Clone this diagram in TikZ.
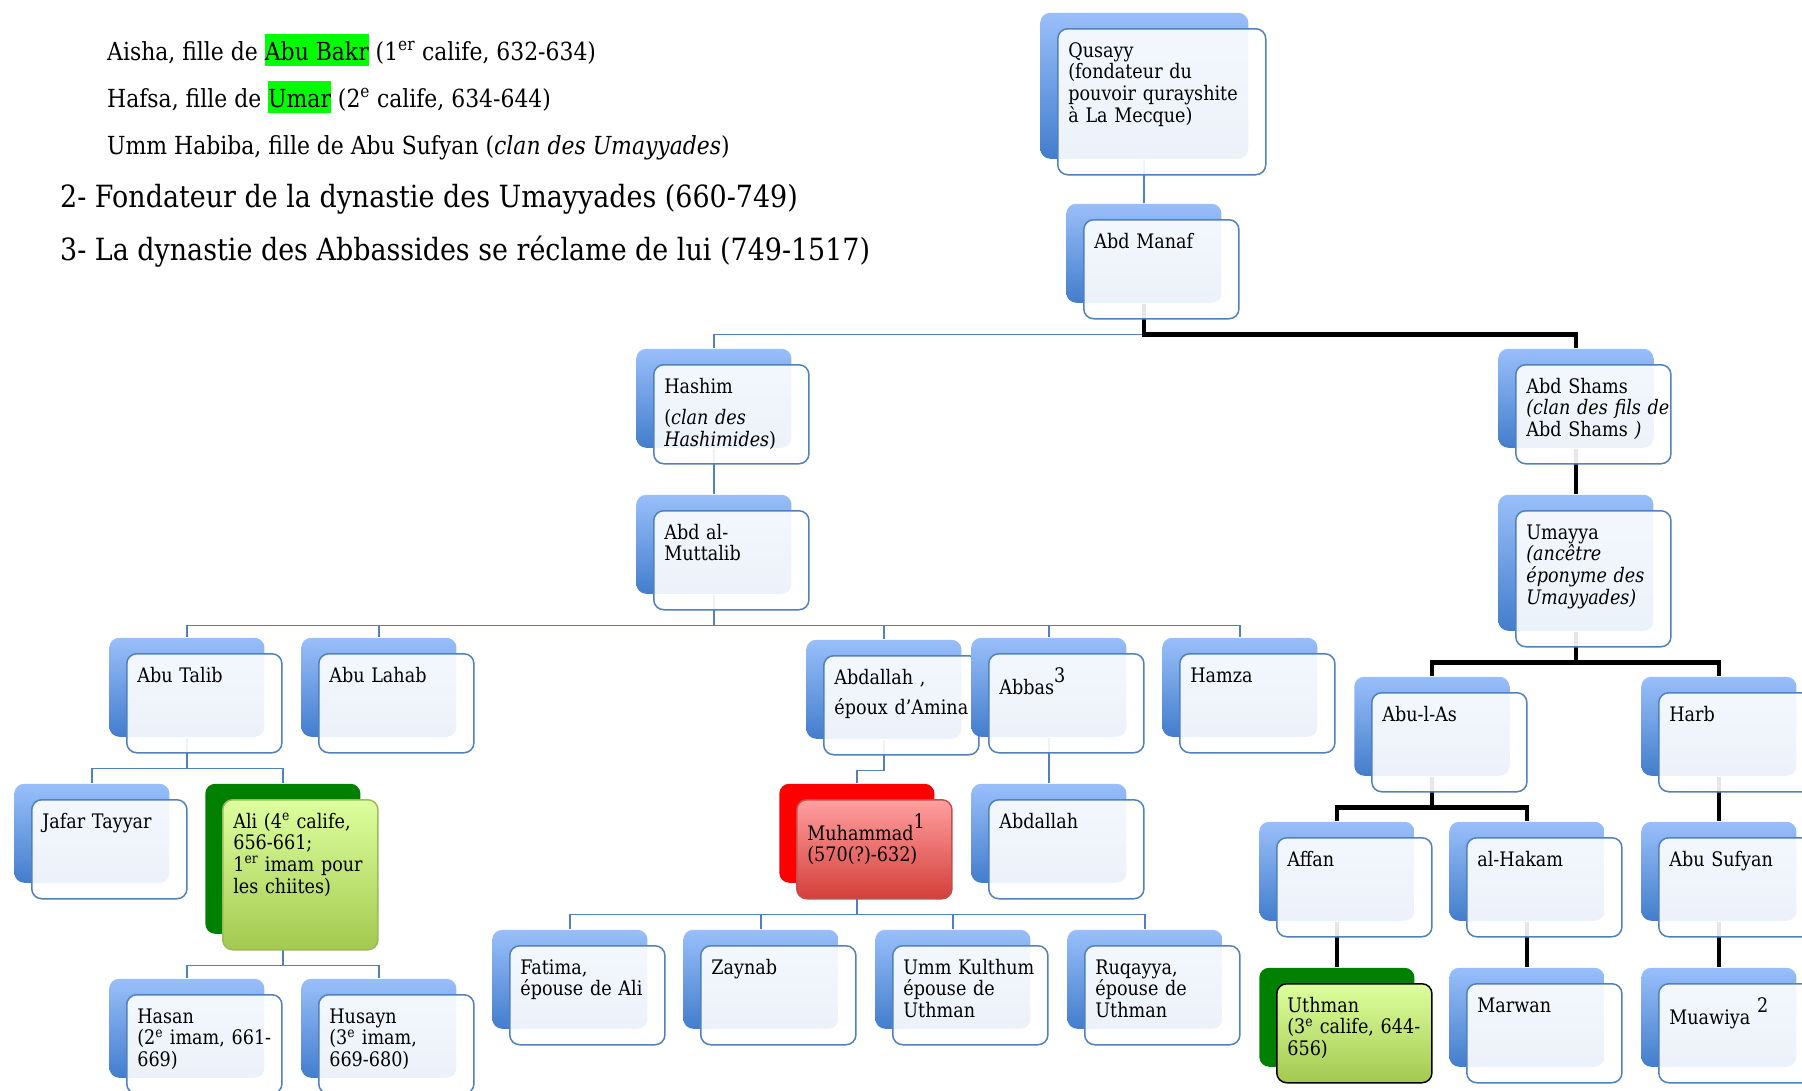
\documentclass[tikz,border=0pt]{standalone}
\usepackage{fontspec}
\setmainfont{DejaVu Serif}[FakeStretch=0.88]
\usetikzlibrary{shadows,backgrounds}

\definecolor{boxline}{HTML}{4F81BD}
\definecolor{backtop}{HTML}{99BFFA}
\definecolor{backbot}{HTML}{437DCC}
\definecolor{hlgreen}{HTML}{00FF00}
\definecolor{limetop}{HTML}{DDFF9E}
\definecolor{limebot}{HTML}{A3C94F}
\definecolor{limeline}{HTML}{9BBB59}
\definecolor{darkgreen}{HTML}{008000}
\definecolor{rosetop}{HTML}{FF9F9F}
\definecolor{rosebot}{HTML}{D43F3A}
\definecolor{roseline}{HTML}{C0504D}

\newcommand{\hilite}[1]{{\setlength{\fboxsep}{0pt}\colorbox{hlgreen}{\rule[-0.26em]{0pt}{1.29em}#1}}}
\newcommand{\noteref}[1]{\raisebox{0.6em}{#1}}

\begin{document}
\begin{tikzpicture}[x=1pt,y=-1pt,
    person/.style={anchor=north west, line width=1.5pt, rounded corners=10pt,
      text opacity=1, align=left, text width=134pt, inner xsep=10.6pt, inner ysep=13.3pt,
      text height=15pt, text depth=57.4pt, font=\fontsize{20}{21.7}\selectfont},
    plain/.style={person, draw=boxline, fill=white, fill opacity=0.9,
      general shadow={shadow xshift=-17.5pt, shadow yshift=16pt, draw=none, fill opacity=1,
        top color=backtop, bottom color=backbot}},
    caliph/.style={person, draw=limeline, top color=limetop, bottom color=limebot,
      general shadow={shadow xshift=-17.5pt, shadow yshift=16pt, draw=none, fill=darkgreen}},
    prophet/.style={person, draw=roseline, top color=rosetop, bottom color=rosebot,
      general shadow={shadow xshift=-17.5pt, shadow yshift=16pt, draw=none, fill=red}},
    note/.style={anchor=base west, inner sep=0pt},
    kin/.style={draw=boxline, line width=1.8pt},
    umayyad/.style={draw=black, line width=4.5pt},
  ]
  \useasboundingbox (0,0) rectangle (1802,1090);
  \clip (0,0) rectangle (1802,1090);

  % notes
  \node[note, font=\fontsize{24.9}{30}\selectfont] (aisha) at (107,60) {Aisha, fille de \hilite{Abu Bakr} (1\textsuperscript{er} calife, 632-634)};
  \node[note, font=\fontsize{24.9}{30}\selectfont] (hafsa) at (107,107) {Hafsa, fille de \hilite{Umar} (2\textsuperscript{e} calife, 634-644)};
  \node[note, font=\fontsize{24.9}{30}\selectfont] (habiba) at (107,154) {Umm Habiba, fille de Abu Sufyan (\textit{clan des Umayyades})};
  \node[note, font=\fontsize{30.6}{36}\selectfont] (note2) at (60,207) {2- Fondateur de la dynastie des Umayyades (660-749)};
  \node[note, font=\fontsize{30.6}{36}\selectfont] (note3) at (60,260) {3- La dynastie des Abbassides se réclame de lui (749-1517)};

  % tree
  \node[plain, text width=186.8pt, text depth=104.4pt] (qusayy) at (1057,28) {Qusayy\\(fondateur du\\pouvoir qurayshite\\à La Mecque)};
  \node[plain] (abdmanaf) at (1083,219) {Abd Manaf};
  \node[plain] (hashim) at (653,364) {Hashim\\[10pt](\textit{clan des}\\\textit{Hashimides})};
  \node[plain] (muttalib) at (653,510) {Abd al-\\Muttalib};
  \node[plain] (abdshams) at (1515,364) {Abd Shams\\\mbox{\textit{(clan des fils de}}\\Abd Shams \textit{)}};
  \node[plain, text depth=94.4pt] (umayya) at (1515,510) {Umayya\\\textit{(ancêtre}\\\textit{éponyme des}\\\textit{Umayyades)}};

  \node[plain] (abutalib) at (126,653) {Abu Talib};
  \node[plain] (abulahab) at (318,653) {Abu Lahab};
  \node[plain] (abdallah) at (823,655) {Abdallah ,\\[8.3pt]\mbox{époux d'Amina}};
  \node[plain, text height=27pt, text depth=45.4pt] (abbas) at (988,653) {Abbas\noteref{3}};
  \node[plain] (hamza) at (1179,653) {Hamza};
  \node[plain] (abulas) at (1371,692) {Abu-l-As};
  \node[plain] (harb) at (1658,692) {Harb};

  \node[plain] (jafar) at (31,799) {Jafar Tayyar};
  \node[caliph, text depth=108.4pt] (ali) at (222,799) {Ali (4\textsuperscript{e} calife,\\656-661;\\\mbox{1\textsuperscript{er} imam pour}\\les chiites)};
  \node[prophet, text height=27pt, text depth=45.4pt] (muhammad) at (796,799) {Muhammad\noteref{1}\\(570(?)-632)};
  \node[plain] (abdallah2) at (988,799) {Abdallah};
  \node[plain] (affan) at (1276,837) {Affan};
  \node[plain] (hakam) at (1466,837) {al-Hakam};
  \node[plain] (abusufyan) at (1658,837) {Abu Sufyan};

  \node[plain] (fatima) at (509,945) {Fatima,\\\mbox{épouse de Ali}};
  \node[plain] (zaynab) at (700,945) {Zaynab};
  \node[plain] (kulthum) at (892,945) {\mbox{Umm Kulthum}\\épouse de\\Uthman};
  \node[plain] (ruqayya) at (1084,945) {Ruqayya,\\épouse de\\Uthman};
  \node[caliph, draw=black] (uthman) at (1276,983) {Uthman\\\mbox{(3\textsuperscript{e} calife, 644-}\\656)};
  \node[plain] (marwan) at (1466,983) {Marwan};
  \node[plain, text height=27pt, text depth=45.4pt] (muawiya) at (1658,983) {Muawiya \noteref{2}};
  \node[plain] (hasan) at (126,994) {Hasan\\\mbox{(2\textsuperscript{e} imam, 661-}\\669)};
  \node[plain] (husayn) at (318,994) {Husayn\\(3\textsuperscript{e} imam,\\669-680)};

  % top and bottom of the blue back boxes
  \foreach \n in {qusayy,abdmanaf,hashim,muttalib,abdshams,umayya,abutalib,abulahab,abdallah,
      abbas,hamza,abulas,harb,jafar,ali,muhammad,abdallah2,affan,hakam,abusufyan,
      fatima,zaynab,kulthum,ruqayya,uthman,marwan,muawiya,hasan,husayn}{
    \coordinate (\n-t) at ([xshift=-17.5pt,yshift=16pt]\n.north);
    \coordinate (\n-b) at ([xshift=-17.5pt,yshift=16pt]\n.south);
  }

  \begin{scope}[on background layer]
    \fill[white] (0,0) rectangle (1802,1090);
    \draw[kin] (qusayy-b) -- (abdmanaf-t);
    \draw[kin] (abdmanaf-b) -- ++(0,31) -| (hashim-t);
    \draw[kin] (hashim-b) -- (muttalib-t);
    \foreach \c in {abutalib,abulahab,abdallah,abbas,hamza}
      \draw[kin] (muttalib-b) -- ++(0,31) -| (\c-t);
    \foreach \c in {jafar,ali}
      \draw[kin] (abutalib-b) -- ++(0,31) -| (\c-t);
    \foreach \c in {hasan,husayn}
      \draw[kin] (ali-b) -- ++(0,31) -| (\c-t);
    \draw[kin] (abdallah-b) -- ++(0,31) -| (muhammad-t);
    \draw[kin] (abbas-b) -- (abdallah2-t);
    \foreach \c in {fatima,zaynab,kulthum,ruqayya}
      \draw[kin] (muhammad-b) -- ++(0,31) -| (\c-t);

    \draw[umayyad] (abdmanaf-b) -- ++(0,31) -| (abdshams-t);
    \draw[umayyad] (abdshams-b) -- (umayya-t);
    \foreach \c in {abulas,harb}
      \draw[umayyad] (umayya-b) -- ++(0,31) -| (\c-t);
    \foreach \c in {affan,hakam}
      \draw[umayyad] (abulas-b) -- ++(0,31) -| (\c-t);
    \draw[umayyad] (affan-b) -- (uthman-t);
    \draw[umayyad] (hakam-b) -- (marwan-t);
    \draw[umayyad] (harb-b) -- (abusufyan-t);
    \draw[umayyad] (abusufyan-b) -- (muawiya-t);
  \end{scope}
\end{tikzpicture}
\end{document}
